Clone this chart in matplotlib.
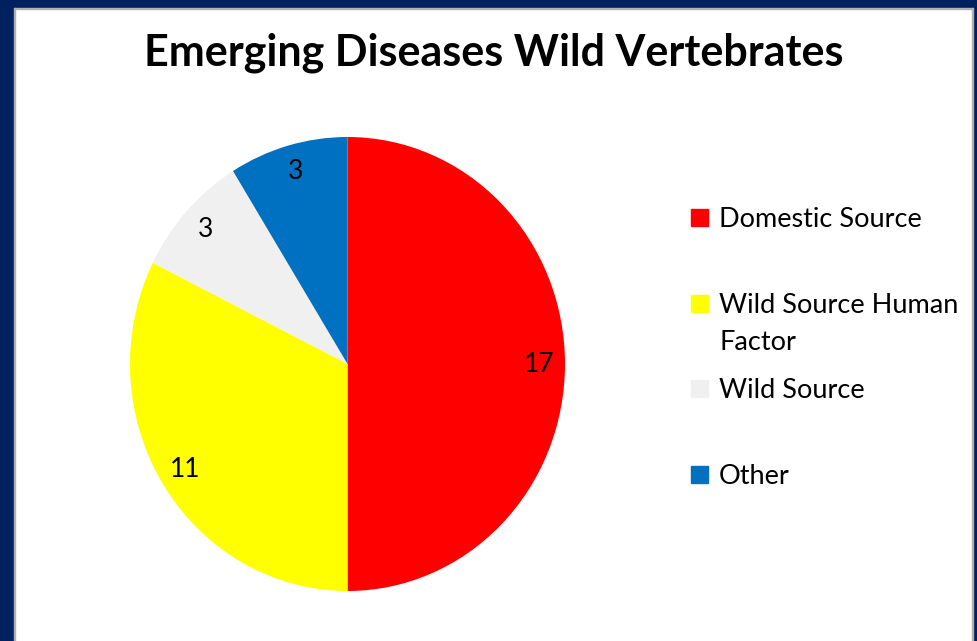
import matplotlib
matplotlib.use("Agg")
import matplotlib.pyplot as plt
from matplotlib.patches import Rectangle

title = "Emerging Diseases Wild Vertebrates"
categories = ["Domestic Source", "Wild Source Human\nFactor", "Wild Source", "Other"]
values = [17, 11, 3, 3]
colors = ["#FF0000", "#FFFF00", "#F0F0F0", "#0070C0"]

FONT = ["Lato", "DejaVu Sans"]
W, H = 977, 641
fig = plt.figure(figsize=(W / 100, H / 100), dpi=100)
fig.patch.set_facecolor("white")

def px(x0, y0, w, h):
    return [x0 / W, 1 - (y0 + h) / H, w / W, h / H]

# navy frame
navy = "#002060"
fig.add_artist(Rectangle((0, 0), 14 / W, 1, transform=fig.transFigure, color=navy, zorder=0))
fig.add_artist(Rectangle((0, 1 - 8 / H), 1, 8 / H, transform=fig.transFigure, color=navy, zorder=0))
fig.add_artist(Rectangle((1 - 4 / W, 0), 4 / W, 1, transform=fig.transFigure, color=navy, zorder=0))
fig.add_artist(Rectangle((14 / W, 0), 1 / W, 1 - 8 / H, transform=fig.transFigure, color="#B0B0B0", zorder=0))
fig.add_artist(Rectangle((14 / W, 1 - 9 / H), (W - 18) / W, 1 / H, transform=fig.transFigure, color="#B0B0B0", zorder=0))
fig.add_artist(Rectangle((1 - 5 / W, 0), 1 / W, 1 - 8 / H, transform=fig.transFigure, color="#B0B0B0", zorder=0))

fig.text(494 / W, 1 - 53 / H, title, ha="center", va="center", fontsize=31,
         fontweight="bold", family=FONT)

# pie
cx, cy, rx, ry = 347.5, 364, 217.5, 227
ax = fig.add_axes(px(cx - rx, cy - ry, 2 * rx, 2 * ry))
wedges, texts = ax.pie(values, colors=colors, startangle=90, counterclock=False,
                       labels=[str(v) for v in values], labeldistance=0.88,
                       wedgeprops=dict(linewidth=0), radius=1.0)
for t in texts:
    t.set_ha("center")
    t.set_va("center")
    t.set_fontsize(19)
    t.set_family(FONT)
    t.set_color("black")
ax.set_aspect("auto")
ax.set_xlim(-1, 1)
ax.set_ylim(-1, 1)
ax.axis("off")

# legend (manual, Excel-like spacing)
leg_y = [217, 303, 388, 474]
for lab, col, y in zip(categories, colors, leg_y):
    fig.add_artist(Rectangle((691 / W, 1 - (y + 8.5) / H), 17 / W, 17 / H,
                             transform=fig.transFigure, color=col))
    fig.text(719 / W, 1 - (y - 10) / H, lab, ha="left", va="top", fontsize=19.5,
             family=FONT, linespacing=1.62)

fig.savefig("out.png", dpi=100)
